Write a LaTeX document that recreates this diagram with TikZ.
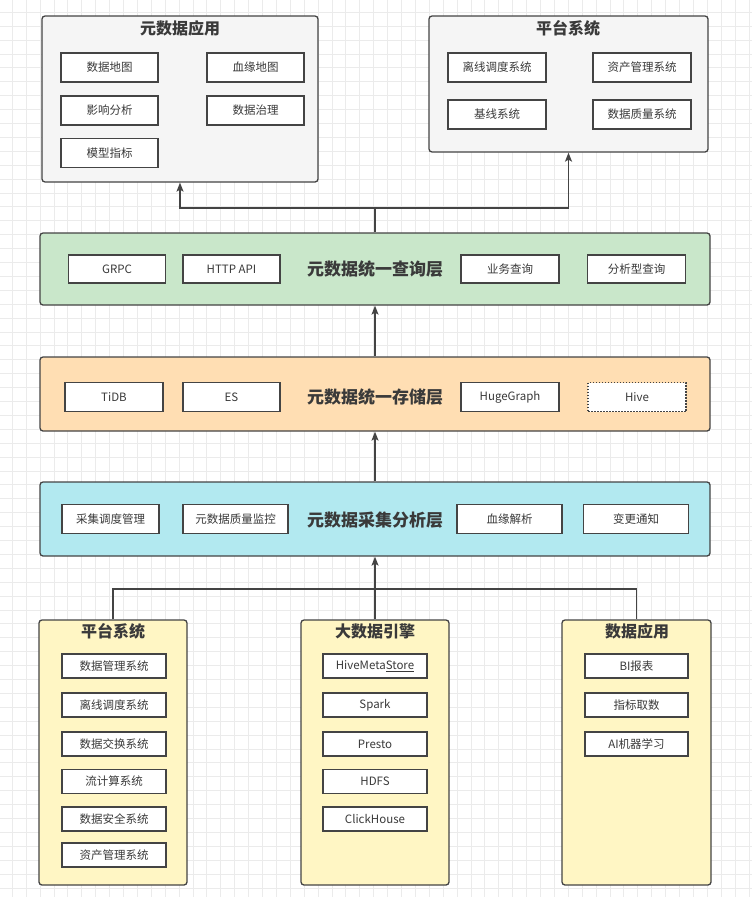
\documentclass[tikz,border=0pt]{standalone}
\usepackage{fontspec}
\setmainfont{Noto Sans CJK SC}
\usetikzlibrary{arrows.meta}

\definecolor{frame}{HTML}{444444}
\definecolor{gridc}{HTML}{EBEBEB}
\definecolor{greyfill}{HTML}{F5F5F5}
\definecolor{queryfill}{HTML}{C9E7CA}
\definecolor{storefill}{HTML}{FFDEB3}
\definecolor{collectfill}{HTML}{B2E9F0}
\definecolor{sourcefill}{HTML}{FFF6C4}
\definecolor{itemtext}{HTML}{3A3A3A}

\begin{document}
\begin{tikzpicture}[x=1pt, y=-1pt, >={Stealth[length=9pt,width=7pt,inset=2pt]},
    panel/.style={draw=frame, fill=#1, rounded corners=3pt, line width=1.3pt, inner sep=0pt},
    item/.style={draw=frame, fill=white, line width=1.1pt, inner sep=0pt, minimum width=97pt,
        minimum height=29pt, text=itemtext, font=\fontsize{11.5}{13}\selectfont},
    small/.style={item, minimum width=104pt, minimum height=24pt},
    title/.style={text=itemtext, font=\bfseries\fontsize{16}{18}\selectfont},
    layer/.style={title, font=\bfseries\fontsize{17}{19}\selectfont},
    link/.style={draw=frame, line width=1.4pt}]

\useasboundingbox (0,0) rectangle (752,897);
\fill[white] (0,0) rectangle (752,897);
\foreach \k in {0,...,53}
    \draw[gridc, line width=0.6pt] ({12.1+13.9*\k},0) -- ({12.1+13.9*\k},897);
\foreach \k in {0,...,64}
    \draw[gridc, line width=0.6pt] (0,{12.1+13.9*\k}) -- (752,{12.1+13.9*\k});

% top: consumers
\node[panel=greyfill, minimum width=276pt, minimum height=166pt] at (180,99)   (app) {};
\node[title] at (180,28) (appT) {元数据应用};
\node[item] at (109.5,67.5)  (map)     {数据地图};
\node[item] at (255.5,67.5)  (lineage) {血缘地图};
\node[item] at (109.5,110.5) (impact)  {影响分析};
\node[item] at (255.5,110.5) (govern)  {数据治理};
\node[item] at (109.5,153)   (model)   {模型指标};

\node[panel=greyfill, minimum width=279pt, minimum height=136pt] at (568.5,84) (plat) {};
\node[title] at (568,28) (platT) {平台系统};
\node[item, minimum width=98pt] at (497,67.5)  (offline) {离线调度系统};
\node[item, minimum width=98pt] at (642,67.5)  (asset)   {资产管理系统};
\node[item, minimum width=98pt] at (497,114.5) (base)    {基线系统};
\node[item, minimum width=98pt] at (642,114.5) (quality) {数据质量系统};

% layers
\node[panel=queryfill, minimum width=670pt, minimum height=72pt] at (375,269) (query) {};
\node[layer] at (375,269) (queryT) {元数据统一查询层};
\node[item, minimum height=28pt] at (117,269)   (grpc)  {GRPC};
\node[item, minimum height=28pt] at (231.5,269) (http)  {HTTP API};
\node[item, minimum height=28pt, minimum width=98pt] at (510,269)   (bizq)  {业务查询};
\node[item, minimum height=28pt, minimum width=98pt] at (636.5,269) (anaq)  {分析型查询};

\node[panel=storefill, minimum width=670pt, minimum height=74pt] at (375,394) (store) {};
\node[layer] at (375,397) (storeT) {元数据统一存储层};
\node[item, minimum width=98pt] at (114,397)   (tidb)  {TiDB};
\node[item] at (231.5,397) (es)    {ES};
\node[item, minimum width=98pt] at (510,397)   (graph) {HugeGraph};
\node[item, minimum width=98pt, dash pattern=on 1.5pt off 1.5pt] at (637,397) (hive) {Hive};

\node[panel=collectfill, minimum width=670pt, minimum height=74pt] at (375,519) (collect) {};
\node[layer] at (375,520) (collectT) {元数据采集分析层};
\node[item] at (110.5,519) (sched)  {采集调度管理};
\node[item, minimum width=105pt] at (235.5,519) (monitor) {元数据质量监控};
\node[item, minimum width=105pt] at (509.5,519) (parse)   {血缘解析};
\node[item, minimum width=105pt] at (636,519)   (notify)  {变更通知};

% bottom: sources
\node[panel=sourcefill, minimum width=148pt, minimum height=265pt] at (113,752.5) (src) {};
\node[title] at (113,631) (srcT) {平台系统};
\node[small] at (114,666)   (s1) {数据管理系统};
\node[small] at (114,705)   (s2) {离线调度系统};
\node[small] at (114,744)   (s3) {数据交换系统};
\node[small] at (114,781.5) (s4) {流计算系统};
\node[small] at (114,819)   (s5) {数据安全系统};
\node[small] at (114,855)   (s6) {资产管理系统};

\node[panel=sourcefill, minimum width=148pt, minimum height=265pt] at (375,752.5) (engine) {};
\node[title] at (375,631) (engineT) {大数据引擎};
\node[small] at (375,666)   (e1) {HiveMeta\underline{Store}};
\node[small] at (375,705)   (e2) {Spark};
\node[small] at (375,744)   (e3) {Presto};
\node[small] at (375,781.5) (e4) {HDFS};
\node[small] at (375,819)   (e5) {ClickHouse};

\node[panel=sourcefill, minimum width=149pt, minimum height=265pt] at (636.5,752.5) (dapp) {};
\node[title] at (637,631) (dappT) {数据应用};
\node[small, minimum width=103pt] at (636.5,666) (d1) {BI报表};
\node[small, minimum width=103pt] at (636.5,705) (d2) {指标取数};
\node[small, minimum width=103pt] at (636.5,744) (d3) {AI机器学习};

% connectors
\coordinate (split) at (375,208);
\coordinate (merge) at (375,589);
\draw[link, ->] (query.north) -- (split) -| (app.south);
\draw[link, ->] (split) -| (plat.south);
\draw[link, ->] (store.north) -- (query.south);
\draw[link, ->] (collect.north) -- (store.south);
\draw[link] (src.north) |- (merge) -| (dapp.north);
\draw[link, ->] (engine.north) -- (collect.south);

\end{tikzpicture}
\end{document}
